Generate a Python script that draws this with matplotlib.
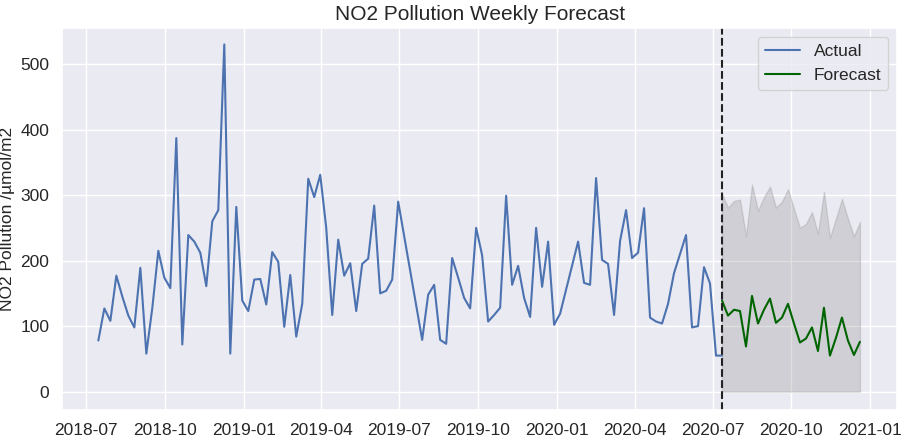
import numpy as np
import pandas as pd
import matplotlib
matplotlib.use("Agg")
import matplotlib.pyplot as plt
import seaborn as sns

# weekly NO2 values, None = missing week (line just connects over it)
actual_values = [
    78, 127, 108, 177, 145, 116, 98, 189, 58, 128, 215, 174, 158, 387,
    72, 239, 229, 212, 161, 260, 277, 530, 58, 282, 139, 123, 171, 172,
    133, 213, 198, 99, 178, 84, 134, 325, 297, 331, 250, 117, 232, 177,
    196, 123,
    195, 203, 284, 150, 154, 171, 290, None, None, None,
    79, 148, 163, 79, 73, 204, 174, 143, 127, 250, 208, 107, 117, 128,
    299, 163, 192, 143, 114, 250, 160, 229, 102, 119, None, None,
    229, 166, 163, 326, 201, 195, 117, 230, 277, 204, 212,
    280, 113, 107, 104, 134, 181, 210, 239, 98, 100, 190, 165, 55, 55,
]
forecast_values = [139, 116, 125, 123, 69, 146, 104, 125, 142, 105, 113, 134,
                   104, 75, 81, 98, 62, 128, 55, 82, 113, 78, 56, 76]
upper_values = [302, 281, 291, 293, 237, 316, 276, 297, 313, 281, 290, 309,
                279, 250, 256, 274, 241, 305, 235, 264, 294, 264, 237, 259]
lower_values = [0] * 24

actual = pd.Series(actual_values, index=pd.date_range("2018-07-15", periods=len(actual_values), freq="7D"),
                   dtype=float).dropna()
fc_index = pd.date_range("2020-07-12", periods=len(forecast_values), freq="7D")

sns.set_theme(style="darkgrid", font_scale=1.0)
plt.rcParams["font.family"] = ["Liberation Sans", "DejaVu Sans"]

fig, ax = plt.subplots(figsize=(9.04, 4.38), dpi=100)
ax.plot(actual.index, actual.values, label="Actual", color="#4c72b0", lw=1.5)
ax.plot(fc_index, forecast_values, label="Forecast", color="darkgreen", lw=1.5)
ax.fill_between(fc_index, lower_values, upper_values, color="grey", alpha=0.25)
ax.axvline(fc_index[0], color="#222222", ls="--", lw=1.5)
ax.set_xlim(pd.Timestamp("2018-06-03"), pd.Timestamp("2021-02-01"))
ax.set_ylim(-28, 555)
ax.tick_params(labelsize=12.5)
ax.set_title("NO2 Pollution Weekly Forecast", fontsize=15)
ax.set_ylabel("NO2 Pollution /µmol/m2", fontsize=12.5, labelpad=4)
ax.legend(loc="upper right", fontsize=12.5)
fig.subplots_adjust(left=0.069, right=0.992, top=0.936, bottom=0.064)
fig.savefig("out.png", dpi=100)
